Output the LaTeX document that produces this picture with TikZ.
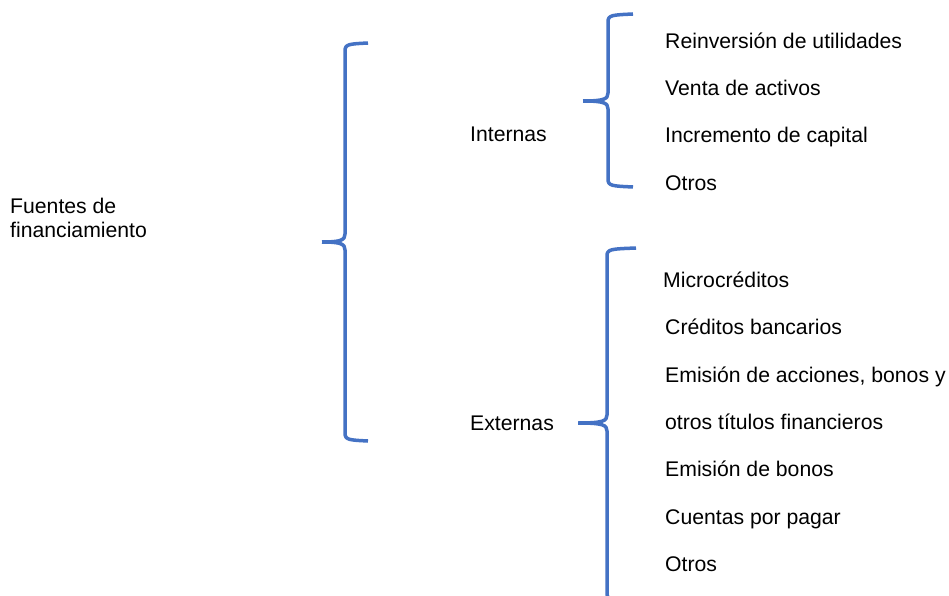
\documentclass[tikz,border=0pt]{standalone}
\usepackage{fontspec}
\setmainfont{Liberation Sans}
\usepackage{tikz}
\usetikzlibrary{positioning}
\usetikzlibrary{calc}
\definecolor{azulllave}{RGB}{68, 114, 196}

% curly bracket: #1 spine x, #2 top y, #3 tip y, #4 bottom y, #5 hook x, #6 tip x
\newcommand{\llave}[6]{%
  \draw[llave] (#5,#2) .. controls (#1+4,#2+1) and (#1,#2+1) .. (#1,#2+8)
    -- (#1,#3-8) .. controls (#1,#3-2) and (#1-4,#3) .. (#6,#3);
  \draw[llave] (#6,#3) .. controls (#1-4,#3) and (#1,#3+2) .. (#1,#3+8)
    -- (#1,#4-8) .. controls (#1,#4-1) and (#1+4,#4-1) .. (#5,#4);
}

\begin{document}
\begin{tikzpicture}[
    x=1pt, y=-1pt,
    % node styles
    txt/.style = {
      inner sep=0pt,
      anchor=base west,
      font=\fontsize{21.2}{24}\selectfont
    },
    item/.style = {
      inner sep=0pt,
      text height=16pt,
      text depth=5pt,
      font=\fontsize{21.2}{24}\selectfont
    },
    % bracket style
    llave/.style = {line width=3.5pt, draw=azulllave, line cap=butt, line join=round}
  ]
  \useasboundingbox (0,0) rectangle (949,596);

  % --- Nodes
  \node[txt, align=left] (fuentes) at (10,237) {Fuentes de\\financiamiento};

  \node[txt] (internas) at (470,142) {Internas};
  \node[txt] (externas) at (470,430) {Externas};

  \node[item, anchor=north west] (reinv) at (665,32) {Reinversión de utilidades};
  \node[item, below right=26pt and 0pt of reinv.south west] (venta) {Venta de activos};
  \node[item, below right=26pt and 0pt of venta.south west] (increm) {Incremento de capital};
  \node[item, below right=26pt and 0pt of increm.south west] (otrosint) {Otros};

  \node[item, anchor=north west] (micro) at (663,271) {Microcréditos};
  \node[item, below right=26pt and 2pt of micro.south west] (creditos) {Créditos bancarios};
  \node[item, below right=26pt and 0pt of creditos.south west] (emision) {Emisión de acciones, bonos y};
  \node[item, below right=26pt and 0pt of emision.south west] (titulos) {otros títulos financieros};
  \node[item, below right=26pt and 0pt of titulos.south west] (bonos) {Emisión de bonos};
  \node[item, below right=26pt and 0pt of bonos.south west] (cuentas) {Cuentas por pagar};
  \node[item, below right=26pt and 0pt of cuentas.south west] (otrosext) {Otros};

  % --- Brackets
  \llave{345}{43}{242}{441}{368}{322}
  \llave{608}{14}{101}{187}{633}{583}
  \llave{607}{248}{423}{601}{636}{578}

\end{tikzpicture}
\end{document}
